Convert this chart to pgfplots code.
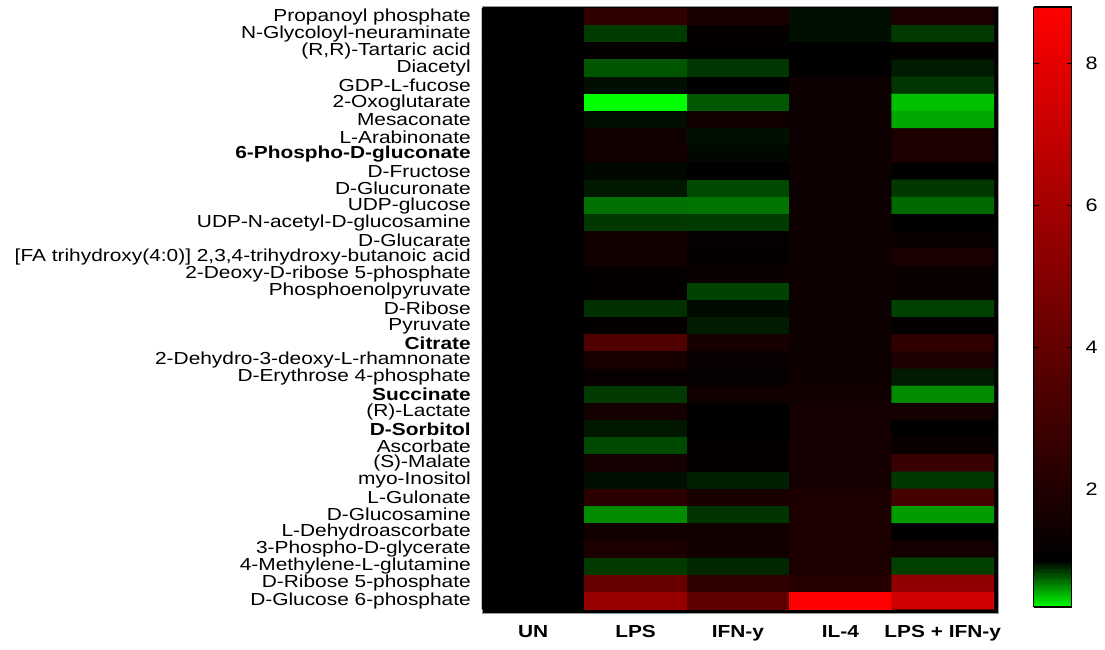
\documentclass[border=0pt]{standalone}
\usepackage{pgfplots}
\pgfplotsset{compat=1.18}
\usepackage{fontspec}
\setmainfont{Liberation Sans}[FakeStretch=1.2]
\begin{document}
\fontsize{18}{20}\selectfont
\begin{tikzpicture}
\begin{axis}[
  name=main,
  scale only axis,
  width=516pt, height=607pt,
  xmin=-0.5, xmax=4.54,
  ymin=-0.62, ymax=34.72,
  y dir=reverse,
  axis background/.style={fill=black},
  axis line style={draw=gray!80, line width=0.8pt},
  major tick length=0pt,
  xtick={0,1,2,3,4},
  xticklabels={\textbf{UN},\textbf{LPS},\textbf{IFN-y},\textbf{IL-4},\textbf{LPS + IFN-y}},
  ytick={0,...,34},
  yticklabels={Propanoyl phosphate,N-Glycoloyl-neuraminate,{(R,R)-Tartaric acid},Diacetyl,GDP-L-fucose,2-Oxoglutarate,Mesaconate,L-Arabinonate,\textbf{6-Phospho-D-gluconate},D-Fructose,D-Glucuronate,UDP-glucose,UDP-N-acetyl-D-glucosamine,D-Glucarate,{[FA trihydroxy(4:0)] 2,3,4-trihydroxy-butanoic acid},2-Deoxy-D-ribose 5-phosphate,Phosphoenolpyruvate,D-Ribose,Pyruvate,\textbf{Citrate},2-Dehydro-3-deoxy-L-rhamnonate,D-Erythrose 4-phosphate,\textbf{Succinate},(R)-Lactate,\textbf{D-Sorbitol},Ascorbate,(S)-Malate,myo-Inositol,L-Gulonate,D-Glucosamine,L-Dehydroascorbate,3-Phospho-D-glycerate,4-Methylene-L-glutamine,D-Ribose 5-phosphate,D-Glucose 6-phosphate},
  tick label style={font=\fontsize{17.4}{18}\selectfont},
  yticklabel style={inner sep=0pt, xshift=-11pt},
  xticklabel style={inner sep=0pt, yshift=-12pt},
  colormap={rg}{rgb255(0pt)=(0,255,0) rgb255(66pt)=(0,0,0) rgb255(846pt)=(255,0,0)},
  point meta min=0.34, point meta max=8.8,
  colorbar sampled,
  colorbar style={
    at={(parent axis.north east)}, anchor=north west,
    xshift=27pt, yshift=-1pt,
    width=38pt, height=600pt,
    scale only axis,
    samples=250,
    ytick={2,4,6,8},
    yticklabel style={font=\fontsize{18}{20}\selectfont},
    yticklabel shift=8pt,
    /pgf/number format/assume math mode=true,
    major tick length=5pt,
    tick align=inside,
    axis line style={draw=black, line width=1.2pt},
    tick style={black, line width=1.2pt},
  },
]
\addplot[matrix plot*, draw=mapped color, line width=0.3pt, mesh/cols=5, point meta=explicit] table[meta=c] {
x y c
0 0 1
1 0 2.47
2 0 1.73
3 0 0.96
4 0 1.86
0 1 1
1 1 0.845
2 1 1.12
3 1 0.96
4 1 0.85
0 2 1
1 2 1.15
2 2 1.06
3 2 1.0
4 2 1.15
0 3 1
1 3 0.78
2 3 0.86
3 3 1.04
4 3 0.93
0 4 1
1 4 0.96
2 4 1.02
3 4 1.4
4 4 0.86
0 5 1
1 5 0.34
2 5 0.77
3 5 1.4
4 5 0.5
0 6 1
1 6 0.96
2 6 1.5
3 6 1.4
4 6 0.565
0 7 1
1 7 1.5
2 7 0.96
3 7 1.4
4 7 1.85
0 8 1
1 8 1.55
2 8 0.98
3 8 1.4
4 8 1.95
0 9 1
1 9 0.98
2 9 1.04
3 9 1.4
4 9 1.0
0 10 1
1 10 0.94
2 10 0.81
3 10 1.4
4 10 0.855
0 11 1
1 11 0.71
2 11 0.695
3 11 1.4
4 11 0.73
0 12 1
1 12 0.855
2 12 0.845
3 12 1.4
4 12 1.04
0 13 1
1 13 1.55
2 13 1.18
3 13 1.4
4 13 1.35
0 14 1
1 14 1.5
2 14 1.12
3 14 1.4
4 14 1.8
0 15 1
1 15 1.12
2 15 1.35
3 15 1.4
4 15 1.35
0 16 1
1 16 1.15
2 16 0.83
3 16 1.4
4 16 1.35
0 17 1
1 17 0.875
2 17 0.97
3 17 1.4
4 17 0.835
0 18 1
1 18 1.12
2 18 0.93
3 18 1.4
4 18 1.15
0 19 1
1 19 3.45
2 19 1.67
3 19 1.4
4 19 2.47
0 20 1
1 20 1.73
2 20 1.25
3 20 1.4
4 20 1.9
0 21 1
1 21 1.25
2 21 1.18
3 21 1.45
4 21 0.93
0 22 1
1 22 0.85
2 22 1.5
3 22 1.5
4 22 0.64
0 23 1
1 23 1.6
2 23 1.04
3 23 1.6
4 23 1.6
0 24 1
1 24 0.94
2 24 1.0
3 24 1.6
4 24 1.04
0 25 1
1 25 0.81
2 25 1.15
3 25 1.6
4 25 1.35
0 26 1
1 26 1.6
2 26 1.12
3 26 1.6
4 26 2.7
0 27 1
1 27 0.96
2 27 0.92
3 27 1.6
4 27 0.855
0 28 1
1 28 2.35
2 28 1.73
3 28 1.85
4 28 3.15
0 29 1
1 29 0.64
2 29 0.865
3 29 1.85
4 29 0.6
0 30 1
1 30 1.55
2 30 1.5
3 30 1.85
4 30 1.04
0 31 1
1 31 1.85
2 31 1.55
3 31 1.85
4 31 1.6
0 32 1
1 32 0.85
2 32 0.9
3 32 1.85
4 32 0.835
0 33 1
1 33 4.2
2 33 2.47
3 33 2.16
4 33 5.4
0 34 1
1 34 5.65
2 34 3.8
3 34 8.8
4 34 7.36
};
\end{axis}
\pgfresetboundingbox
\path[use as bounding box] (main.north west) ++(-482pt,6pt) rectangle ++(1105pt,-650pt);
\end{tikzpicture}
\end{document}
